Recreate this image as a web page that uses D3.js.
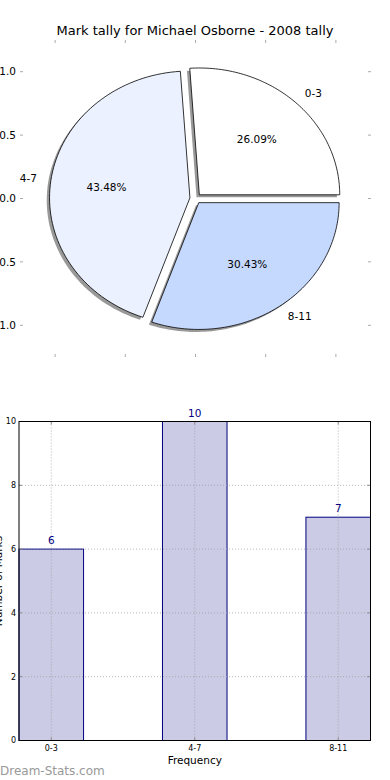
<!DOCTYPE html>
<html>
<head>
<meta charset="utf-8">
<script src="https://cdn.jsdelivr.net/npm/d3@7"></script>
<style>
  body { margin: 0; background: #fff; }
  text { font-family: "DejaVu Sans", sans-serif; }
</style>
</head>
<body>
<div id="chart"></div>
<script>
// data
var categories = ["0-3", "4-7", "8-11"];
var counts = [6, 10, 7];
var pieColors = ["#ffffff", "#ebf1fe", "#c5d8fe"];
var pieTicks = [-1.0, -0.5, 0.0, 0.5, 1.0];
var barTicks = [0, 2, 4, 6, 8, 10];
var explode = 0.04;

var W = 390, H = 780;

const svg = d3.select("#chart")
  .append("svg")
  .attr("width", W)
  .attr("height", H)
  .attr("viewBox", [0, 0, W, H]);

// ---------- pie (matplotlib style, elliptical axes) ----------
var px = d3.scaleLinear().domain([-1.25, 1.25]).range([20, 371]);
var py = d3.scaleLinear().domain([-1.25, 1.25]).range([357, 40]);

svg.append("text")
  .attr("x", 195)
  .attr("y", 35)
  .attr("text-anchor", "middle")
  .attr("font-size", "13px")
  .text("Mark tally for Michael Osborne - 2008 tally");

var total = d3.sum(counts);
var wedges = [];
var a0 = 0;
counts.forEach(function (c, i) {
  var a1 = a0 + 2 * Math.PI * c / total;
  var mid = (a0 + a1) / 2;
  wedges.push({
    name: categories[i], value: c, a0: a0, a1: a1, mid: mid,
    cx: explode * Math.cos(mid), cy: explode * Math.sin(mid),
    color: pieColors[i]
  });
  a0 = a1;
});

function wedgePts(w, ox, oy) {
  var pts = [[w.cx + ox, w.cy + oy]];
  var n = 80;
  for (var k = 0; k <= n; k++) {
    var t = w.a0 + (w.a1 - w.a0) * k / n;
    pts.push([w.cx + ox + Math.cos(t), w.cy + oy + Math.sin(t)]);
  }
  return pts;
}

var line = d3.line().x(d => px(d[0])).y(d => py(d[1]));

var pie = svg.append("g");
// shadows
pie.selectAll("path.shadow")
  .data(wedges)
  .join("path")
  .attr("class", "shadow")
  .attr("d", d => line(wedgePts(d, -0.02, -0.02)) + "Z")
  .attr("fill", "#000")
  .attr("opacity", 0.4);

pie.selectAll("path.wedge")
  .data(wedges)
  .join("path")
  .attr("class", "wedge")
  .attr("d", d => line(wedgePts(d, 0, 0)) + "Z")
  .attr("fill", d => d.color)
  .attr("stroke", "#000")
  .attr("stroke-width", 0.8)
  .attr("stroke-linejoin", "miter");

// outer labels
pie.selectAll("text.lab")
  .data(wedges)
  .join("text")
  .attr("class", "lab")
  .attr("x", d => px(d.cx + 1.1 * Math.cos(d.mid)))
  .attr("y", d => py(d.cy + 1.1 * Math.sin(d.mid)))
  .attr("dy", "0.35em")
  .attr("text-anchor", d => Math.cos(d.mid) > 0 ? "start" : "end")
  .attr("font-size", "10.5px")
  .text(d => d.name);

// percentages
pie.selectAll("text.pct")
  .data(wedges)
  .join("text")
  .attr("class", "pct")
  .attr("x", d => px(d.cx + 0.6 * Math.cos(d.mid)))
  .attr("y", d => py(d.cy + 0.6 * Math.sin(d.mid)))
  .attr("dy", "0.35em")
  .attr("text-anchor", "middle")
  .attr("font-size", "10.5px")
  .text(d => (100 * d.value / total).toFixed(2) + "%");

// pie ticks (grey, inward)
var pt = svg.append("g").attr("stroke", "#aaa").attr("stroke-width", 1);
pieTicks.forEach(function (v) {
  pt.append("line").attr("x1", px(-1.25)).attr("x2", px(-1.25) + 3).attr("y1", py(v)).attr("y2", py(v));
  pt.append("line").attr("x1", px(1.25)).attr("x2", px(1.25) - 3).attr("y1", py(v)).attr("y2", py(v));
  pt.append("line").attr("x1", px(v)).attr("x2", px(v)).attr("y1", py(1.25)).attr("y2", py(1.25) + 3);
  pt.append("line").attr("x1", px(v)).attr("x2", px(v)).attr("y1", py(-1.25)).attr("y2", py(-1.25) - 3);
});
svg.append("g").selectAll("text")
  .data(pieTicks)
  .join("text")
  .attr("x", px(-1.25) - 4)
  .attr("y", d => py(d))
  .attr("dy", "0.35em")
  .attr("text-anchor", "end")
  .attr("font-size", "10.5px")
  .text(d => d3.format(".1f")(d).replace("-", "\u2212"));

// ---------- bar chart ----------
var barW = 0.45;
var bx = d3.scaleLinear().domain([0, categories.length - 1 + barW]).range([19, 370.5]);
var by = d3.scaleLinear().domain([0, 10]).range([740.5, 421.5]);

var bars = svg.append("g");
bars.selectAll("rect")
  .data(counts)
  .join("rect")
  .attr("x", (d, i) => bx(i))
  .attr("y", d => by(d))
  .attr("width", bx(barW) - bx(0))
  .attr("height", d => by(0) - by(d))
  .attr("fill", "#cbcbe5")
  .attr("stroke", "#000080")
  .attr("stroke-width", 1);

// grid (dotted, drawn over bars)
var grid = svg.append("g").attr("stroke", "#999").attr("stroke-width", 1)
  .attr("stroke-dasharray", "1,2").attr("opacity", 0.7);
barTicks.forEach(function (v) {
  grid.append("line").attr("x1", bx.range()[0]).attr("x2", bx.range()[1]).attr("y1", by(v)).attr("y2", by(v));
});
categories.forEach(function (c, i) {
  grid.append("line").attr("x1", bx(i + barW / 2)).attr("x2", bx(i + barW / 2)).attr("y1", by(0)).attr("y2", by(10));
});

// ticks
var bt = svg.append("g").attr("stroke", "#888").attr("stroke-width", 1);
barTicks.forEach(function (v) {
  bt.append("line").attr("x1", bx.range()[0]).attr("x2", bx.range()[0] + 3).attr("y1", by(v)).attr("y2", by(v));
  bt.append("line").attr("x1", bx.range()[1]).attr("x2", bx.range()[1] - 3).attr("y1", by(v)).attr("y2", by(v));
});
categories.forEach(function (c, i) {
  var x = bx(i + barW / 2);
  bt.append("line").attr("x1", x).attr("x2", x).attr("y1", by(10)).attr("y2", by(10) + 3);
  bt.append("line").attr("x1", x).attr("x2", x).attr("y1", by(0)).attr("y2", by(0) - 3);
});

// frame
svg.append("rect")
  .attr("x", bx.range()[0])
  .attr("y", by(10))
  .attr("width", bx.range()[1] - bx.range()[0])
  .attr("height", by(0) - by(10))
  .attr("fill", "none")
  .attr("stroke", "#000")
  .attr("stroke-width", 1);

// tick labels
svg.append("g").selectAll("text")
  .data(barTicks)
  .join("text")
  .attr("x", bx.range()[0] - 3)
  .attr("y", d => by(d))
  .attr("dy", "0.35em")
  .attr("text-anchor", "end")
  .attr("font-size", "8px")
  .text(d => d);

svg.append("g").selectAll("text")
  .data(categories)
  .join("text")
  .attr("x", (d, i) => bx(i + barW / 2))
  .attr("y", by(0) + 10)
  .attr("text-anchor", "middle")
  .attr("font-size", "8px")
  .text(d => d);

// value labels
svg.append("g").selectAll("text")
  .data(counts)
  .join("text")
  .attr("x", (d, i) => bx(i + barW / 2))
  .attr("y", d => by(d) - 5)
  .attr("text-anchor", "middle")
  .attr("font-size", "10.5px")
  .attr("fill", "#000080")
  .text(d => d);

svg.append("text")
  .attr("x", (bx.range()[0] + bx.range()[1]) / 2)
  .attr("y", 764)
  .attr("text-anchor", "middle")
  .attr("font-size", "10.5px")
  .text("Frequency");

svg.append("text")
  .attr("transform", `translate(2,${(by(0) + by(10)) / 2}) rotate(-90)`)
  .attr("text-anchor", "middle")
  .attr("font-size", "10.5px")
  .text("Number of Marks");

svg.append("text")
  .attr("x", 0)
  .attr("y", 775)
  .attr("font-size", "12px")
  .attr("fill", "#999")
  .text("Dream-Stats.com");
</script>
</body>
</html>
